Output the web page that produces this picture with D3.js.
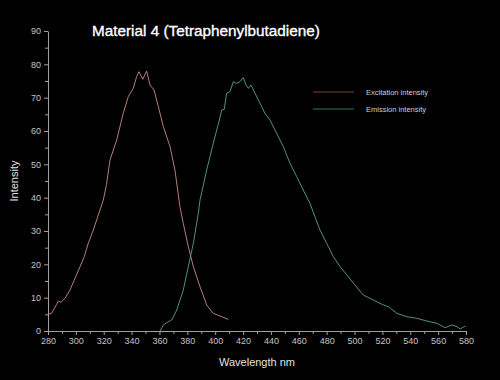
<!DOCTYPE html>
<meta charset="utf-8">
<style>
body { margin: 0; background: #000; }
svg { font-family: "Liberation Sans", Arial, sans-serif; }
.axis path, .axis line { stroke: #a0a0a0; }
.axis text { fill: #c4c4c4; font-size: 9px; }
</style>
<svg width="500" height="380"></svg>
<script src="https://d3js.org/d3.v7.min.js"></script>
<script>

// excitation spectrum (wavelength nm, intensity)
var excWave = [280, 282.6, 286.2, 287.4, 289.3, 292.2, 295.8, 299.4, 303, 306, 308.9, 312.5, 316.1, 319.7, 322, 324.5, 329.3, 334, 337.6, 341.2, 343.6, 345.3, 348, 350.8, 353.2, 356.1, 359.2, 362.8, 367.6, 371.1, 374.7, 377.1, 380.7, 384.3, 389.1, 393.9, 398.6, 403.4, 409.4];
var excVal  = [5.0, 5.3, 8.0, 9.0, 8.6, 9.8, 12.3, 15.8, 19.3, 22.3, 26.3, 30.3, 34.8, 39.3, 44, 51.3, 57.3, 65.3, 70.3, 72.8, 76.3, 77.8, 75.5, 78.0, 73.8, 72.3, 67.3, 61.3, 55.3, 48.3, 37.3, 32.3, 25.3, 19.3, 13.3, 7.8, 5.3, 4.5, 3.5];

// emission spectrum
var emWave = [360.4, 362.8, 365.2, 368.8, 372.4, 377.1, 380.7, 384.3, 387.9, 389.1, 393.9, 398.6, 403, 404.7, 406.5, 408.2, 410.6, 413, 415.4, 417.8, 420.2, 422.1, 423.8, 425.7, 428.6, 432.2, 435.7, 439.3, 444.1, 448.9, 453.7, 458.5, 463.2, 468, 471.6, 475.2, 480, 484.8, 489.6, 495.5, 500.3, 506.3, 513.5, 520.7, 524.3, 530.3, 537.5, 544.7, 551.9, 559.1, 565, 569.9, 573.5, 575.9, 579.5];
var emVal  = [0, 1.8, 2.5, 3.3, 6.3, 12.3, 19.3, 26.3, 35.3, 39.3, 48.3, 56.3, 63.3, 66.3, 66.5, 71.3, 71.8, 74.8, 74.3, 74.8, 76.0, 73.8, 72.8, 73.8, 71.3, 68.3, 65.3, 63.3, 59.3, 55.3, 50.3, 46.3, 42.3, 38.3, 34.3, 30.3, 26.3, 22.3, 19.3, 16.3, 13.8, 10.8, 9.3, 7.8, 7.3, 5.3, 4.3, 3.8, 3.0, 2.3, 1.0, 1.8, 1.3, 0.6, 1.5];

var xTicks = d3.range(280, 581, 20);
var yTicks = d3.range(0, 91, 10);
var seriesNames = ["Excitation intensity", "Emission intensity"];
var seriesColors = ["#c98a84", "#5c9f94"];
var legendColors = ["#7e4438", "#2f7468"];

var svg = d3.select("svg"),
    margin = {top: 31, right: 34, bottom: 49, left: 48},
    width = +svg.attr("width") - margin.left - margin.right,
    height = +svg.attr("height") - margin.top - margin.bottom;

svg.append("rect").attr("width", 500).attr("height", 380).attr("fill", "#000");

var g = svg.append("g").attr("transform", "translate(" + margin.left + "," + margin.top + ")");

var x = d3.scaleLinear().domain([280, 580]).range([0, width]);
var y = d3.scaleLinear().domain([0, 90]).range([height, 0]);

// minor ticks
g.append("g")
    .attr("class", "axis")
    .attr("transform", "translate(0," + height + ")")
    .call(d3.axisBottom(x).tickValues(d3.range(290, 580, 20)).tickSize(3).tickFormat(""))
    .select(".domain").remove();
g.append("g")
    .attr("class", "axis")
    .call(d3.axisLeft(y).tickValues(d3.range(5, 90, 10)).tickSize(3).tickFormat(""))
    .select(".domain").remove();

g.append("g")
    .attr("class", "axis")
    .attr("transform", "translate(0," + height + ")")
    .call(d3.axisBottom(x).tickValues(xTicks).tickSize(4).tickSizeOuter(0).tickPadding(3));

g.append("g")
    .attr("class", "axis")
    .call(d3.axisLeft(y).tickValues(yTicks).tickSize(4).tickSizeOuter(0).tickPadding(3));

var line = d3.line()
    .x(function(d) { return x(d[0]); })
    .y(function(d) { return y(d[1]); });

var series = [d3.zip(excWave, excVal), d3.zip(emWave, emVal)];

g.selectAll(".series")
    .data(series)
    .enter().append("path")
    .attr("class", "series")
    .attr("fill", "none")
    .attr("stroke", function(d, i) { return seriesColors[i]; })
    .attr("stroke-width", 0.9)
    .attr("d", line);

// legend
var legend = g.selectAll(".legend")
    .data(seriesNames)
    .enter().append("g")
    .attr("class", "legend")
    .attr("transform", function(d, i) { return "translate(265," + (61 + i * 17) + ")"; });

legend.append("line")
    .attr("x1", 0).attr("x2", 41)
    .attr("stroke", function(d, i) { return legendColors[i]; })
    .attr("stroke-width", 1);

legend.append("text")
    .attr("x", 53)
    .attr("dy", "0.35em")
    .attr("fill", "#cfcfcf")
    .style("font-size", "7.5px")
    .text(function(d) { return d; });

svg.append("text")
    .attr("x", 92).attr("y", 36)
    .attr("fill", "#fff")
    .attr("stroke", "#fff")
    .attr("stroke-width", 0.35)
    .style("font-size", "15.3px")
    .text("Material 4 (Tetraphenylbutadiene)");

svg.append("text")
    .attr("x", margin.left + width / 2).attr("y", 366)
    .attr("text-anchor", "middle")
    .attr("fill", "#e0e0e0")
    .style("font-size", "11px")
    .text("Wavelength nm");

svg.append("text")
    .attr("transform", "translate(18," + (margin.top + height / 2) + ") rotate(-90)")
    .attr("text-anchor", "middle")
    .attr("fill", "#e0e0e0")
    .style("font-size", "11px")
    .text("Intensity");

</script>
